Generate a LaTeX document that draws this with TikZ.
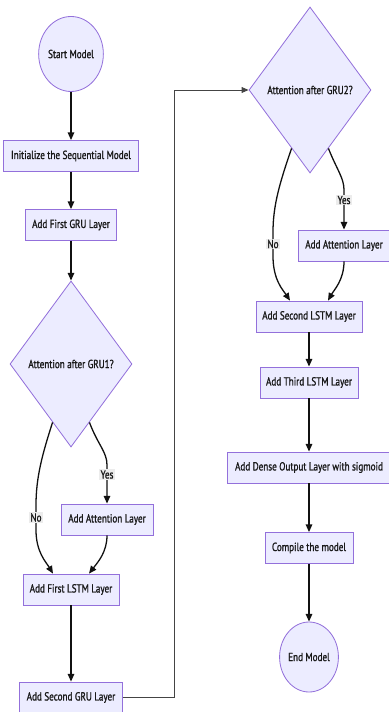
\documentclass[tikz,border=0pt]{standalone}
\usepackage{fontspec}
\setmainfont[FakeStretch=0.78,FakeBold=1.2]{PT Sans}
\usetikzlibrary{shapes.geometric,arrows.meta,calc}
\definecolor{flowFill}{HTML}{ECECFF}
\definecolor{flowLine}{HTML}{9370DB}
\definecolor{edgeLine}{HTML}{111111}
\definecolor{loopLine}{HTML}{444444}
\definecolor{labelBg}{HTML}{ECECEC}

\def\px{0.03cm}

\tikzset{
  nodetext/.style={font=\fontsize{10}{12}\selectfont, text=black!90},
  stepbox/.style={draw=flowLine, fill=flowFill, line width=0.7pt,
    minimum height=31*\px, inner sep=0pt, nodetext},
  termnode/.style={ellipse, draw=flowLine, fill=flowFill, line width=0.7pt,
    inner sep=0pt, nodetext},
  decnode/.style={diamond, draw=flowLine, fill=flowFill, line width=0.7pt,
    inner sep=0pt, aspect=0.73, minimum width=122*\px, minimum height=166*\px,
    nodetext},
  flow/.style={draw=edgeLine, line width=1.1pt,
    -{Triangle[length=6.5pt,width=5.5pt]}},
  edgelabel/.style={fill=labelBg, inner sep=1pt, nodetext}
}

\begin{document}
\begin{tikzpicture}[x=\px, y=-\px]

\useasboundingbox (0,0) rectangle (388,712);

% --- LEFT COLUMN ---
\node[termnode, minimum width=57*\px, minimum height=75*\px] (start) at (71,54) {Start Model};
\node[stepbox, minimum width=135*\px] (init) at (71,156) {Initialize the Sequential Model};
\node[stepbox, minimum width=91*\px] (gru1) at (71,225) {Add First GRU Layer};
\node[decnode] (dec1) at (71,364) {Attention after GRU1?};
\node[stepbox, minimum width=92*\px] (att1) at (107,519.5) {Add Attention Layer};
\node[stepbox, minimum width=96*\px] (lstm1) at (71,589.5) {Add First LSTM Layer};
\node[stepbox, minimum width=103*\px] (gru2) at (71,697.5) {Add Second GRU Layer};

% --- RIGHT COLUMN ---
\node[decnode] (dec2) at (310,90) {Attention after GRU2?};
\node[stepbox, minimum width=92*\px] (att2) at (344,245.5) {Add Attention Layer};
\node[stepbox, minimum width=106*\px] (lstm2) at (309,316.5) {Add Second LSTM Layer};
\node[stepbox, minimum width=98*\px] (lstm3) at (309,382.5) {Add Third LSTM Layer};
\node[stepbox, minimum width=164*\px] (dense) at (309,467.5) {Add Dense Output Layer with sigmoid};
\node[stepbox, minimum width=88*\px] (compile) at (309,548) {Compile the model};
\node[termnode, minimum width=51*\px, minimum height=70*\px] (end) at (309,657) {End Model};

% --- EDGES: left column ---
\draw[flow] (start) -- (init);
\draw[flow] (init) -- (gru1);
\draw[flow] (gru1) -- (dec1);
\draw[flow] ($(dec1.south)!0.3!(dec1.west)$)
  .. controls (42,455) and (36,478) .. (36,505)
  -- node[edgelabel] {No} (36,530)
  .. controls (36,552) and (46,562) .. ($(lstm1.north)+(-18,0)$);
\draw[flow] ($(dec1.south)!0.3!(dec1.east)$)
  .. controls (98,445) and (107,452) .. (107,465)
  -- node[edgelabel] {Yes} (107,484) -- (att1.north);
\draw[flow] (att1.south)
  .. controls (107,552) and (98,562) .. ($(lstm1.north)+(18,0)$);
\draw[flow] (lstm1) -- (gru2);

% --- LOOP OVER to second decision ---
\draw[draw=loopLine, line width=0.8pt, -{Triangle[length=6pt,width=5pt]}]
  (gru2.east) -- ++(51.5,0) |- (dec2.west);

% --- EDGES: right column ---
\draw[flow] ($(dec2.south)!0.3!(dec2.east)$)
  .. controls (337,170) and (344,178) .. (344,190)
  -- node[edgelabel] {Yes} (344,210) -- (att2.north);
\draw[flow] ($(dec2.south)!0.3!(dec2.west)$)
  .. controls (280,182) and (273,205) .. (273,232)
  -- node[edgelabel] {No} (273,256)
  .. controls (273,280) and (283,290) .. ($(lstm2.north)+(-19,0)$);
\draw[flow] (att2.south)
  .. controls (344,280) and (334,290) .. ($(lstm2.north)+(19,0)$);
\draw[flow] (lstm2) -- (lstm3);
\draw[flow] (lstm3) -- (dense);
\draw[flow] (dense) -- (compile);
\draw[flow] (compile) -- (end);

\end{tikzpicture}
\end{document}
